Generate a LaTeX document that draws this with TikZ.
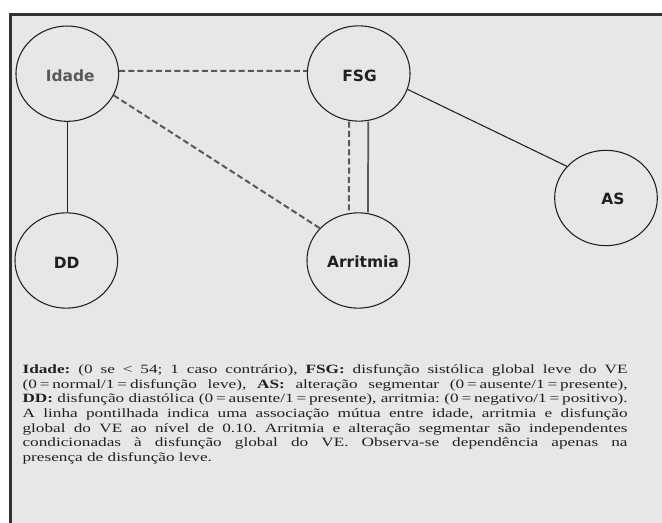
\documentclass[tikz,border=0pt]{standalone}
\usepackage{fontspec}
\setmainfont{Liberation Serif}
\newfontfamily\lblfont{DejaVu Sans}
\usepackage{graphicx}
\usetikzlibrary{shapes.geometric}
\definecolor{bggray}{HTML}{E6E7E8}
\definecolor{ink}{HTML}{231F20}
\definecolor{framegray}{HTML}{333333}
\definecolor{dashgray}{HTML}{58595B}
\newcommand\hscale{1.36}
\newlength\linew \setlength\linew{453.75pt}
\newlength\linewn \setlength\linewn{\dimexpr 453.75pt*100/136\relax}
\newsavebox\jlbox
\newcommand\jline[1]{\sbox\jlbox{#1}\ifdim\wd\jlbox>\linewn\resizebox{\linew}{\height}{#1}\else\scalebox{\hscale}[1]{\makebox[\linewn][s]{#1}}\fi}
\tikzset{
  ell/.style={ellipse, draw=ink, line width=0.8pt, minimum width=77pt, minimum height=71.5pt, inner sep=0pt},
  lbl/.style={font=\lblfont\bfseries\fontsize{11.6pt}{14pt}\selectfont, text=ink, inner sep=0pt, anchor=base},
  dashline/.style={draw=dashgray, line width=1.5pt, dash pattern=on 4.5pt off 2.4pt},
  graysolid/.style={draw=dashgray, line width=1.3pt},
  thinline/.style={draw=ink, line width=0.8pt},
  framebox/.style={draw=framegray, line width=2pt},
  legendline/.style={inner sep=0pt, anchor=base west, text=ink, font=\fontsize{9.5pt}{11pt}\selectfont\frenchspacing}
}
\begin{document}
\begin{tikzpicture}[x=0.75pt, y=-0.75pt]
\useasboundingbox (0,0) rectangle (662,523);
\fill[bggray] (10.3,14.7) rectangle (662,523);
\draw[framebox] (10.3,523) -- (10.3,14.7) -- (662,14.7);

\node[ell] (idade) at (67.3,73.7) {};
\node[ell] (fsg) at (358.7,73.5) {};
\node[ell] (dd) at (66.3,260.5) {};
\node[ell] (arr) at (358.3,260.5) {};
\node[ell] (as) at (606,198) {};

\node[lbl, text=dashgray] (idadeT) at (70.3,81.7) {Idade};
\node[lbl] (fsgT) at (359.5,81.2) {FSG};
\node[lbl] (ddT) at (66.7,268.3) {DD};
\node[lbl] (arrT) at (363,267.7) {Arritmia};
\node[lbl] (asT) at (613,205) {AS};

\draw[dashline] (idade.3) -- (fsg.177);
\draw[dashline] (idade.-25) -- (arr.140);
\draw[dashline] ([xshift=-7.1pt]fsg.south) -- ([xshift=-7.1pt]arr.north);
\draw[graysolid] ([xshift=7.2pt]fsg.south) -- ([xshift=7.2pt]arr.north);
\draw[thinline] (idade.south) -- (idade.south |- dd.north);
\draw[thinline] (fsg.-18) -- (as.141);

\node[legendline] (leg1) at (22.3,373.5) {\jline{\textbf{Idade:} (0 se < 54; 1 caso contrário), \textbf{FSG:} disfunção sistólica global leve do VE}};
\node[legendline] (leg2) at (22.3,388.2) {\jline{(0\,=\,normal/1\,=\,disfunção leve), \textbf{AS:} alteração segmentar (0\,=\,ausente/1\,=\,presente),}};
\node[legendline] (leg3) at (22.3,402.9) {\jline{\textbf{DD:} disfunção diastólica (0\,=\,ausente/1\,=\,presente), arritmia: (0\,=\,negativo/1\,=\,positivo).}};
\node[legendline] (leg4) at (22.3,417.6) {\jline{A linha pontilhada indica uma associação mútua entre idade, arritmia e disfunção}};
\node[legendline] (leg5) at (22.3,432.3) {\jline{global do VE ao nível de 0.10. Arritmia e alteração segmentar são independentes}};
\node[legendline] (leg6) at (22.3,447.0) {\jline{condicionadas à disfunção global do VE. Observa-se dependência apenas na}};
\node[legendline] (leg7) at (22.3,461.7) {\scalebox{\hscale}[1]{presença de disfunção leve.}};
\end{tikzpicture}
\end{document}
